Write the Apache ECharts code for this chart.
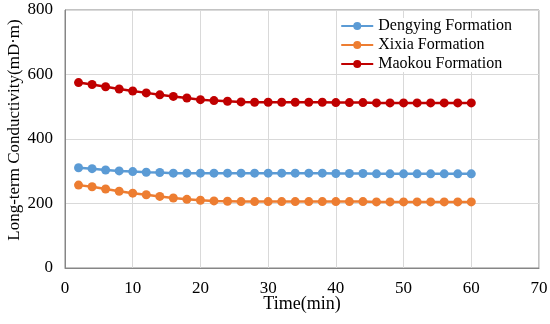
<!DOCTYPE html>
<html><head><meta charset="utf-8">
<script src="https://cdn.jsdelivr.net/npm/echarts@6/dist/echarts.min.js"></script>
<style>html,body{margin:0;padding:0;background:#fff}#c{width:550px;height:324px}</style>
</head><body><div id="c"></div>
<script>
var times = [2,4,6,8,10,12,14,16,18,20,22,24,26,28,30,32,34,36,38,40,42,44,46,48,50,52,54,56,58,60];
var dengying = [311,308,304,301,299,297,296,294,294,294,294,294,294,294,294,294,294,294,294,293,293,293,292,292,292,292,292,292,292,292];
var xixia = [257,252,245,238,232,227,222,217,213,210,208,207,206,206,206,206,206,206,206,206,206,206,205,205,205,205,205,205,205,205];
var maokou = [575,569,562,555,549,543,537,532,527,522,519,517,515,514,514,514,514,514,514,513,513,513,512,512,512,512,512,512,512,512];
var seriesNames = ['Dengying Formation','Xixia Formation','Maokou Formation'];
var colors = ['#5B9BD5','#ED7D31','#C00000'];
var font = '"Liberation Serif","Times New Roman",serif';
function pairs(v){ return times.map(function(t,i){ return [t, v[i]]; }); }
var all = [dengying, xixia, maokou];
var chart = echarts.init(document.getElementById('c'));
chart.setOption({
  animation:false,
  backgroundColor:'#fff',
  grid:{left:65, right:11, top:10, bottom:56, show:true, borderColor:'#868686', borderWidth:1, containLabel:false, outerBoundsMode:'none'},
  legend:{
    orient:'vertical', right:36, top:18, itemGap:3, itemWidth:32, itemHeight:10,
    backgroundColor:'#fff', padding:[0,2,0,2],
    textStyle:{fontFamily:font, fontSize:16, color:'#000'},
    data:seriesNames
  },
  xAxis:{
    type:'value', min:0, max:70, interval:10,
    name:'Time(min)', nameLocation:'middle', nameGap:27, nameMoveOverlap:false,
    nameTextStyle:{fontFamily:font, fontSize:18, color:'#000'},
    axisLine:{show:true, lineStyle:{color:'#868686', width:1}},
    axisTick:{show:false},
    axisLabel:{fontFamily:font, fontSize:17, color:'#000', margin:12},
    splitLine:{show:true, lineStyle:{color:'#d9d9d9', width:1}}
  },
  yAxis:{
    type:'value', min:0, max:800, interval:200,
    name:'Long-term Conductivity(mD·m)', nameLocation:'middle', nameGap:42, nameMoveOverlap:false,
    nameTextStyle:{fontFamily:font, fontSize:17, color:'#000', padding:[0,0,0,18]},
    axisLine:{show:true, lineStyle:{color:'#868686', width:1}},
    axisTick:{show:false},
    axisLabel:{fontFamily:font, fontSize:17, color:'#000', margin:12},
    splitLine:{show:true, lineStyle:{color:'#d9d9d9', width:1}}
  },
  series: all.map(function(v,i){
    return {
      name:seriesNames[i], type:'line', data:pairs(v),
      symbol:'circle', symbolSize:9, showSymbol:true,
      lineStyle:{color:colors[i], width:2.5},
      itemStyle:{color:colors[i]}
    };
  })
});
</script></body></html>
